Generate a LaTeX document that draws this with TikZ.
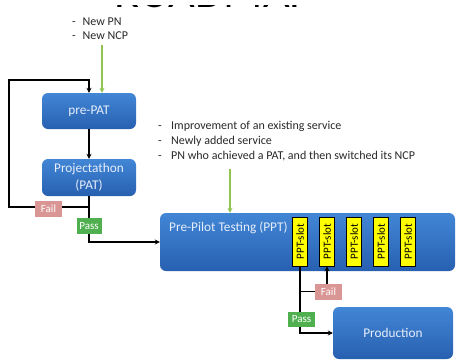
\documentclass[tikz,border=0pt]{standalone}
\usepackage{fontspec}
\setmainfont{Carlito}
\usetikzlibrary{arrows.meta,calc}
\definecolor{bTop}{RGB}{66,134,214}
\definecolor{bBot}{RGB}{40,96,176}
\definecolor{gArr}{RGB}{146,196,80}
\definecolor{failC}{RGB}{217,150,148}
\definecolor{passC}{RGB}{80,176,80}
\definecolor{slotC}{RGB}{255,255,0}
\definecolor{txtC}{RGB}{40,40,40}
\definecolor{boxTxt}{RGB}{230,238,250}
\tikzset{
  blk/.style={rounded corners=6pt, top color=bTop, bottom color=bBot, draw=none,
    text=boxTxt, font=\fontsize{13.3}{17}\selectfont, inner sep=0pt, align=center},
  slotbox/.style={draw=black, line width=0.6pt, fill=slotC, minimum width=49, minimum height=15,
    inner sep=0pt, font=\fontsize{11}{12}\selectfont, rotate=90},
  tag/.style={inner sep=0pt, text=white, font=\fontsize{11}{12}\selectfont},
  arr/.style={line width=1.3pt, -{Stealth[length=5pt,width=5pt]}},
  garr/.style={line width=1.3pt, draw=gArr, -{Stealth[length=5pt,width=5pt]}},
  note/.style={anchor=west, inner sep=0pt, text=txtC, font=\fontsize{12}{13}\selectfont}
}
\begin{document}
\begin{tikzpicture}[x=1pt,y=-1pt]
\useasboundingbox (0,0) rectangle (456,360);
% title: only the foot of the letters shows in the reference
\node[anchor=base, inner sep=0pt, text=black, font=\fontsize{46}{46}\selectfont] (title) at (214,7.8) {ROADMAP};
\fill[white] (-5,-40) rectangle (461,5.2);
% notes
\node[note] (n1) at (72,21.7) {\makebox[10.5pt][l]{-}New PN};
\node[note] (n2) at (72,35.7) {\makebox[10.5pt][l]{-}New NCP};
\node[note] (m1) at (158,126.7) {\makebox[13pt][l]{-}Improvement of an existing service};
\node[note] (m2) at (158,141.7) {\makebox[13pt][l]{-}Newly added service};
\node[note] (m3) at (158,156) {\makebox[13pt][l]{-}PN who achieved a PAT, and then switched its NCP};
% boxes
\node[blk, minimum width=94, minimum height=36] (prepat) at (89,111) {pre-PAT};
\node[blk, minimum width=94, minimum height=37] (pat) at (89,177.5) {Projectathon\\(PAT)};
\node[blk, minimum width=295, minimum height=58] (ppt) at (307.5,242) {};
\node[anchor=west, inner sep=0pt, text=boxTxt, font=\fontsize{13.3}{15}\selectfont] (ppttext) at (169,228) {Pre-Pilot Testing (PPT)};
\node[blk, minimum width=120, minimum height=52] (prod) at (393,333) {Production};
\foreach \i/\x in {1/300,2/327,3/354,4/381,5/408}{
  \node[slotbox] (s\i) at (\x,241.5) {PPT-slot};
}
% green arrows
\coordinate (g1) at (102,45);
\draw[garr] (g1) -- (g1 |- prepat.north);
\coordinate (g2) at (230,169);
\draw[garr] (g2) -- (g2 |- ppt.north);
% left flow
\draw[arr] (prepat.south) -- (pat.north);
\coordinate (lb) at (9,207);
\coordinate (lt) at (9,80);
\draw[arr] (pat.south) |- (lb) -- (lt) -| (prepat.north);
\draw[arr] (pat.south) |- (ppt.west);
\node[tag, fill=failC, minimum width=27, minimum height=16] (fail1) at (48.5,209) {Fail};
\node[tag, fill=passC, minimum width=25, minimum height=16] (pass1) at (89,226) {Pass};
% right flow (slots are rotated: west = bottom)
\draw[arr] (s1.west) |- (prod.west);
\coordinate (brp) at (s1.west |- 0,291.5);
\draw[arr] (brp) -| (s2.west);
\node[tag, fill=failC, minimum width=27, minimum height=16] (fail2) at (328.5,292) {Fail};
\node[tag, fill=passC, minimum width=27, minimum height=15] (pass2) at (301.5,319.5) {Pass};
\end{tikzpicture}
\end{document}
